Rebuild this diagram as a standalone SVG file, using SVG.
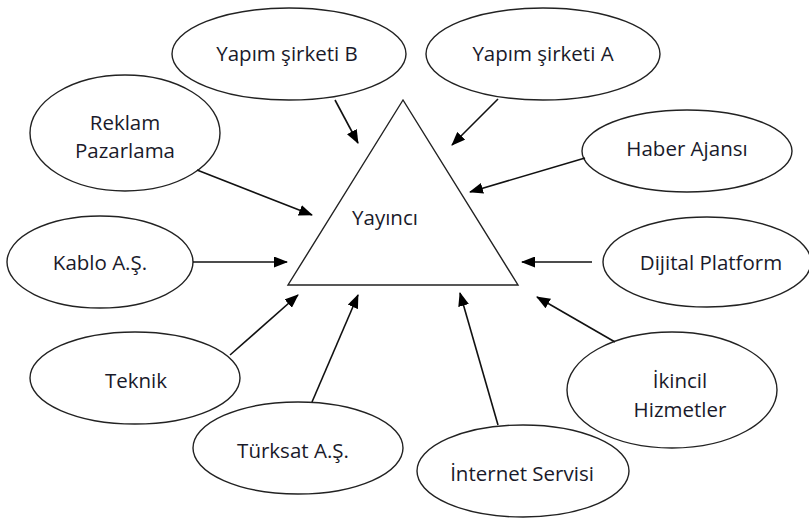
<svg xmlns="http://www.w3.org/2000/svg" width="809" height="520" viewBox="0 0 809 520">
<defs>
<style>
.n ellipse{fill:#fff;stroke:#222;stroke-width:1.4}
text{font-family:"Open Sans","Liberation Sans",sans-serif;font-size:20.5px;fill:#1a1a2a;text-anchor:middle;dominant-baseline:central}
.c line{stroke:#111;stroke-width:1.6;marker-end:url(#ah)}
</style>
<marker id="ah" viewBox="0 0 14 11" refX="13" refY="5.5" markerWidth="14" markerHeight="11" markerUnits="userSpaceOnUse" orient="auto">
<path d="M0,0 L14,5.5 L0,11 z" fill="#000"/>
</marker>
</defs>
<rect width="809" height="520" fill="#fff"/>
<g id="yayinci" class="n">
<polygon points="403,100 288,285 518,285" fill="#fff" stroke="#222" stroke-width="1.4"/>
<text x="385" y="217">Yayıncı</text>
</g>
<g id="yapimB" class="n"><ellipse cx="289" cy="54" rx="117" ry="46"/><text x="287" y="53">Yapım şirketi B</text></g>
<g id="yapimA" class="n"><ellipse cx="543" cy="54" rx="117" ry="46"/><text x="543" y="53">Yapım şirketi A</text></g>
<g id="reklam" class="n"><ellipse cx="125" cy="133" rx="95" ry="58"/><text x="125" y="122">Reklam</text><text x="125" y="150">Pazarlama</text></g>
<g id="haber" class="n"><ellipse cx="687" cy="151" rx="105" ry="41"/><text x="687" y="148">Haber Ajansı</text></g>
<g id="kablo" class="n"><ellipse cx="100" cy="262" rx="93" ry="46"/><text x="100" y="262">Kablo A.Ş.</text></g>
<g id="dijital" class="n"><ellipse cx="707" cy="262" rx="104" ry="45"/><text x="711" y="262">Dijital Platform</text></g>
<g id="teknik" class="n"><ellipse cx="135" cy="378" rx="105" ry="46"/><text x="136" y="380">Teknik</text></g>
<g id="ikincil" class="n"><ellipse cx="672" cy="390" rx="105" ry="58"/><text x="680" y="380">İkincil</text><text x="680" y="409">Hizmetler</text></g>
<g id="turksat" class="n"><ellipse cx="298" cy="448" rx="105" ry="46"/><text x="293" y="450">Türksat A.Ş.</text></g>
<g id="internet" class="n"><ellipse cx="523" cy="471" rx="106" ry="46"/><text x="522" y="473">İnternet Servisi</text></g>
<g id="connectors" class="c">
<line x1="335" y1="100" x2="358" y2="143"/>
<line x1="498" y1="99" x2="452" y2="145"/>
<line x1="197" y1="170" x2="312" y2="215"/>
<line x1="585" y1="158" x2="470" y2="192"/>
<line x1="193" y1="262" x2="287" y2="262"/>
<line x1="592" y1="262" x2="522" y2="262"/>
<line x1="230" y1="355" x2="298" y2="295"/>
<line x1="312" y1="402" x2="358" y2="295"/>
<line x1="498" y1="425" x2="460" y2="293"/>
<line x1="615" y1="342" x2="537" y2="297"/>
</g>
</svg>
